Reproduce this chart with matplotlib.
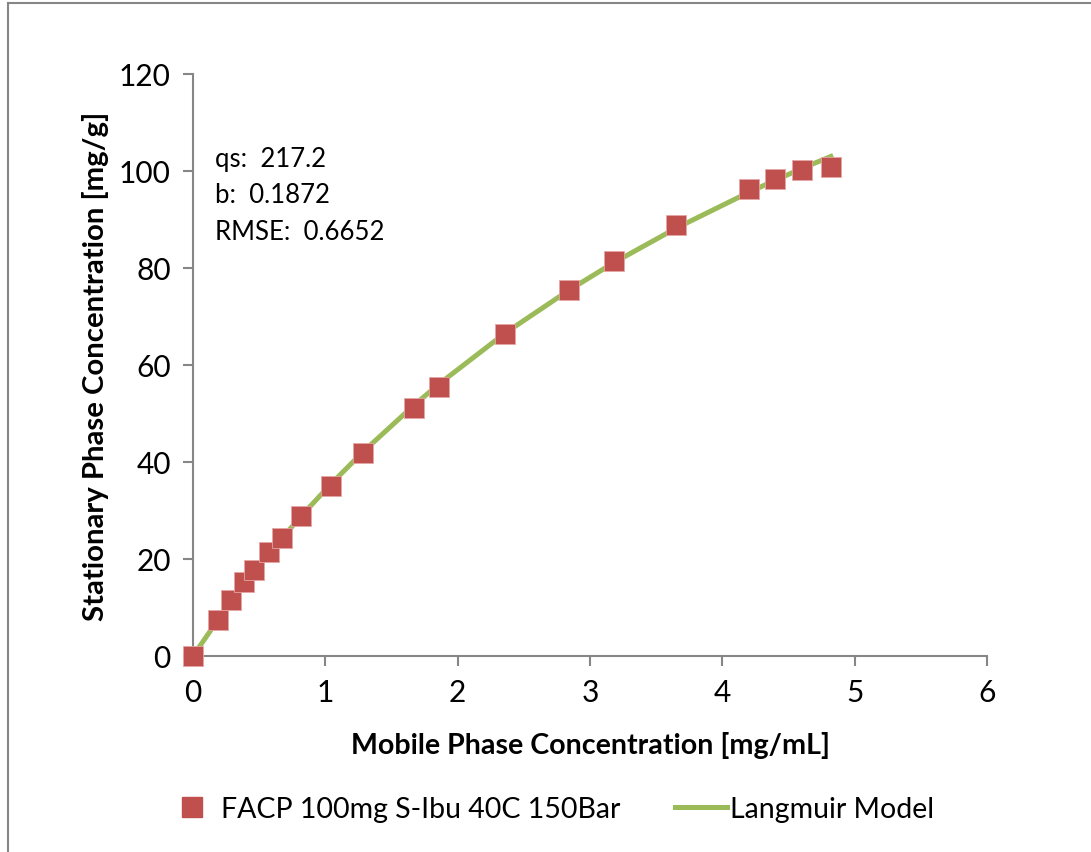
"""
Langmuir isotherm fit for S-Ibu on FACP at 40C / 150 bar.
"""

import matplotlib.pyplot as plt
from matplotlib.lines import Line2D

plt.rcParams["font.family"] = ["Lato", "DejaVu Sans"]

# measured points
c_mobile = [0.0, 0.19, 0.29, 0.385, 0.46, 0.575, 0.67, 0.816, 1.04, 1.285,
            1.67, 1.86, 2.36, 2.84, 3.18, 3.65, 4.20, 4.40, 4.60, 4.82]
q_stat = [0.0, 7.4, 11.5, 15.3, 17.7, 21.4, 24.3, 28.9, 35.1, 41.9,
          51.1, 55.5, 66.4, 75.5, 81.4, 88.9, 96.3, 98.4, 100.2, 100.8]

# model curve
q_model = [0.0, 7.5, 11.2, 14.6, 17.2, 21.1, 24.2, 28.8, 35.4, 42.1,
           51.7, 56.1, 66.6, 75.4, 81.1, 88.2, 95.6, 98.1, 100.5, 103.0]

fit_text = "qs:  217.2\nb:  0.1872\nRMSE:  0.6652"

red = "#C0504D"
green = "#9BBB59"
grey = "#868686"

fig = plt.figure(figsize=(10.91, 8.53), dpi=100)
ax = fig.add_axes([0.1769, 0.2298, 0.7278, 0.6823])

ax.plot(c_mobile, q_model, color=green, lw=3.6, zorder=2)
ax.plot(c_mobile, q_stat, "s", color=red, ms=14, mec="#E6A6A4", mew=0.6,
        zorder=3, clip_on=False)

ax.set_xlim(0, 6)
ax.set_ylim(0, 120)
ax.set_xticks(range(0, 7))
ax.set_yticks(range(0, 121, 20))

for s in ["top", "right"]:
    ax.spines[s].set_visible(False)
for s in ["left", "bottom"]:
    ax.spines[s].set_color(grey)
    ax.spines[s].set_linewidth(1.5)
ax.tick_params(direction="out", length=7, width=1.5, color=grey,
               labelsize=21.5, pad=9)

ax.set_xlabel("Mobile Phase Concentration [mg/mL]", fontsize=20.6,
              fontweight="bold", labelpad=18)
ax.set_ylabel("Stationary Phase Concentration [mg/g]", fontsize=21.2,
              fontweight="bold", labelpad=7)

ax.text(0.028, 0.876, fit_text, transform=ax.transAxes, fontsize=18.5,
        va="top", ha="left", linespacing=1.56)

handles = [
    Line2D([], [], ls="none", marker="s", color=red, ms=14),
    Line2D([], [], color=green, lw=3.6),
]
fig.legend(handles, ["FACP 100mg S-Ibu 40C 150Bar", "Langmuir Model"],
           loc="center", bbox_to_anchor=(0.504, 0.05), ncol=2, frameon=False,
           fontsize=20.5, handlelength=1.86, handletextpad=0.1,
           columnspacing=1.9)

# outer frame of the chart area
fig.add_artist(Line2D([8 / 1091, 8 / 1091], [0, 1 - 4 / 853],
                      transform=fig.transFigure, color=grey, lw=1.5))
fig.add_artist(Line2D([8 / 1091, 1], [1 - 4 / 853, 1 - 4 / 853],
                      transform=fig.transFigure, color=grey, lw=1.5))

fig.savefig("out.png", dpi=100)
